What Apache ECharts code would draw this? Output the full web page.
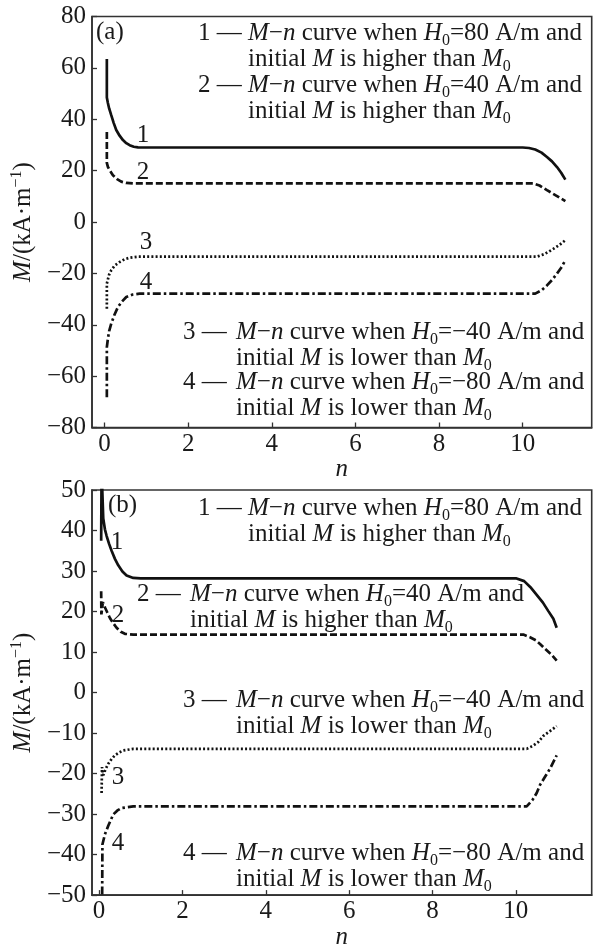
<!DOCTYPE html>
<html>
<head>
<meta charset="utf-8">
<script src="https://cdn.jsdelivr.net/npm/echarts@6/dist/echarts.min.js"></script>
<style>
  html, body { margin: 0; padding: 0; background: #fff; }
  #chart { width: 597px; height: 951px; }
</style>
</head>
<body>
<div id="chart"></div>
<script>
// Magnetisation M (kA/m) against cycle number n, [n, M] samples per curve.
// Panel (a)
const curveA1 = [[0.055, 63.5], [0.055, 48.5], [0.08, 46.3], [0.11, 44.2], [0.16, 41.6], [0.22, 38.5], [0.28, 35.8], [0.36, 33.6], [0.44, 31.9], [0.52, 30.7], [0.6, 29.9], [0.7, 29.3], [0.8, 29.05], [1.0, 29], [10.0, 29], [10.15, 28.8], [10.3, 28.2], [10.45, 27], [10.58, 25.3], [10.7, 23.6], [10.82, 21.4], [10.92, 19.2], [11.02, 16.5]];
const curveA2 = [[0.055, 35], [0.055, 23], [0.08, 21.5], [0.12, 20.2], [0.2, 18.2], [0.3, 16.7], [0.4, 15.7], [0.52, 15.2], [0.68, 15], [10.25, 15], [10.4, 14.2], [10.58, 12.4], [10.8, 10.3], [11.02, 8.1]];
const curveA3 = [[0.055, -33.8], [0.055, -24], [0.08, -22.3], [0.11, -20.5], [0.16, -18.8], [0.24, -17], [0.36, -15.6], [0.48, -14.5], [0.6, -13.9], [0.8, -13.5], [10.34, -13.5], [10.5, -12.6], [10.62, -11.6], [10.74, -10.4], [10.88, -8.9], [11.02, -7.1]];
const curveA4 = [[0.055, -68.2], [0.055, -48.7], [0.08, -45.5], [0.11, -42.5], [0.16, -39.6], [0.24, -36], [0.32, -33.1], [0.42, -30.9], [0.52, -29.2], [0.66, -28.3], [0.84, -27.9], [10.3, -27.9], [10.45, -26.6], [10.58, -24.7], [10.7, -22.6], [10.82, -20.1], [10.92, -17.8], [11.02, -14.9]];
// Panel (b)
const curveB1 = [[0.05, 37.5], [0.06, 55], [0.1, 43], [0.14, 40.3], [0.18, 38.7], [0.24, 36.7], [0.3, 35], [0.38, 33], [0.46, 31.4], [0.56, 29.9], [0.66, 28.9], [0.82, 28.3], [1.0, 28.2], [10.0, 28.2], [10.2, 27.5], [10.35, 26], [10.5, 24.1], [10.65, 22.2], [10.78, 20.1], [10.9, 18.2], [10.98, 16]];
const curveB2 = [[0.05, 25], [0.055, 19.3], [0.09, 22.3], [0.15, 20.8], [0.2, 19.7], [0.26, 18.4], [0.34, 17.1], [0.42, 16], [0.52, 15], [0.62, 14.5], [0.82, 14.3], [10.18, 14.3], [10.35, 13.6], [10.48, 12.9], [10.58, 12], [10.7, 10.8], [10.85, 9.4], [10.98, 7.9]];
const curveB3 = [[0.06, -24.8], [0.07, -18.4], [0.1, -20.4], [0.16, -18.8], [0.22, -17.6], [0.3, -16.4], [0.38, -15.5], [0.48, -14.8], [0.58, -14.3], [0.82, -13.9], [10.26, -13.9], [10.4, -13.2], [10.54, -12.2], [10.66, -10.7], [10.82, -9.5], [10.98, -8.3]];
const curveB4 = [[0.07, -58], [0.08, -37.5], [0.14, -35], [0.22, -32.9], [0.34, -30.1], [0.44, -29.1], [0.54, -28.5], [0.82, -28.1], [10.26, -28.1], [10.4, -26.5], [10.5, -24.8], [10.58, -22.8], [10.7, -20.8], [10.82, -18.8], [10.98, -15.5]];

const xTicks = [0, 2, 4, 6, 8, 10];
const curveNames = ['1', '2', '3', '4'];
const fieldValues = ['80', '40', '−40', '−80'];
const relations = ['higher', 'higher', 'lower', 'lower'];
const panelTags = ['(a)', '(b)'];

const INK = '#1a1a1a';
const AXIS = '#333';
const FONT = '"Liberation Serif", "Times New Roman", serif';
const FS = 25;

const chart = echarts.init(document.getElementById('chart'), null, { renderer: 'canvas' });

const richText = {
  i: { fontStyle: 'italic', fontSize: FS, fontFamily: FONT, fill: INK },
  sub: { fontSize: 16, fontFamily: FONT, fill: INK, padding: [16, 0, 0, 0] }
};

function legendBlock(k) {
  return '{i|M}−{i|n} curve when {i|H}{sub|0}=' + fieldValues[k] + ' A/m and\n' +
    'initial {i|M} is ' + relations[k] + ' than {i|M}{sub|0}';
}

function textEl(x, y, text, extra) {
  return {
    type: 'text', x: x, y: y, silent: true, z: 100,
    style: Object.assign({
      text: text, fill: INK, fontSize: FS, fontFamily: FONT,
      lineHeight: 26, rich: richText, align: 'left', verticalAlign: 'top'
    }, extra || {})
  };
}

// legend layout: [number x, text block x, top y]
const legendPos = [
  [198, 248, 20], [198, 248, 72], [183, 236, 319], [183, 236, 369],
  [198, 248, 495], [137, 190, 581], [183, 236, 687], [183, 236, 840]
];
// curve number tags next to the curves
const tagPos = [
  [143, 135], [143, 172], [146, 242], [146, 282],
  [117, 542], [118, 615], [118, 777], [118, 843]
];

const graphics = [];
legendPos.forEach(function (p, idx) {
  const k = idx % 4;
  graphics.push(textEl(p[0], p[2], curveNames[k] + ' —'));
  graphics.push(textEl(p[1], p[2], legendBlock(k)));
});
tagPos.forEach(function (p, idx) {
  graphics.push(textEl(p[0], p[1], curveNames[idx % 4], { align: 'center', verticalAlign: 'middle' }));
});
graphics.push(textEl(96, 32, panelTags[0], { verticalAlign: 'middle' }));
graphics.push(textEl(108, 505, panelTags[1], { verticalAlign: 'middle' }));

function minusFmt(v) { return String(v).replace('-', '−'); }

function makeX(gi, min, max, gap) {
  return {
    gridIndex: gi, type: 'value', min: min, max: max,
    name: 'n', nameLocation: 'middle', nameGap: gap,
    nameTextStyle: { fontStyle: 'italic', fontSize: FS, fontFamily: FONT, color: INK },
    axisLine: { show: true, onZero: false, lineStyle: { color: AXIS, width: 1.6 } },
    axisTick: { show: true, inside: true, length: 5, customValues: xTicks, lineStyle: { color: AXIS, width: 1.3 } },
    axisLabel: { customValues: xTicks, fontSize: FS, fontFamily: FONT, color: INK, margin: 4, formatter: minusFmt },
    splitLine: { show: false }
  };
}

function makeY(gi, min, max, step) {
  return {
    gridIndex: gi, type: 'value', min: min, max: max, interval: step,
    name: '{i|M}/(kA·m{sup|−1})', nameLocation: 'middle', nameGap: 50,
    nameTextStyle: {
      fontSize: FS, fontFamily: FONT, color: INK,
      rich: {
        i: { fontStyle: 'italic', fontSize: FS, fontFamily: FONT, color: INK },
        sup: { fontSize: 16, fontFamily: FONT, color: INK, padding: [0, 0, 14, 0] }
      }
    },
    axisLine: { show: true, onZero: false, lineStyle: { color: AXIS, width: 1.6 } },
    axisTick: { show: true, inside: true, length: 5, lineStyle: { color: AXIS, width: 1.3 } },
    axisLabel: { fontSize: FS, fontFamily: FONT, color: INK, margin: 6, formatter: minusFmt },
    splitLine: { show: false }
  };
}

const lineTypes = ['solid', [7, 3], [2, 2.2], [8, 3, 2.5, 3]];
function makeSeries(data, k, gi) {
  return {
    type: 'line', data: data, xAxisIndex: gi, yAxisIndex: gi,
    symbol: 'none', clip: true, silent: true,
    lineStyle: { color: '#111', width: 2.7, type: lineTypes[k] }
  };
}

chart.setOption({
  animation: false,
  backgroundColor: '#fff',
  grid: [
    { left: 92, right: 5.3, top: 16.5, height: 411, show: true, borderColor: AXIS, borderWidth: 1.6 },
    { left: 92, right: 5.3, top: 490, height: 411.5, show: true, borderColor: AXIS, borderWidth: 1.6 }
  ],
  xAxis: [makeX(0, -0.3, 11.65, 26), makeX(1, -0.17, 11.82, 22)],
  yAxis: [makeY(0, -80, 80, 20), makeY(1, -50, 50, 10)],
  series: [
    makeSeries(curveA1, 0, 0), makeSeries(curveA2, 1, 0), makeSeries(curveA3, 2, 0), makeSeries(curveA4, 3, 0),
    makeSeries(curveB1, 0, 1), makeSeries(curveB2, 1, 1), makeSeries(curveB3, 2, 1), makeSeries(curveB4, 3, 1)
  ],
  graphic: { elements: graphics }
});
</script>
</body>
</html>
